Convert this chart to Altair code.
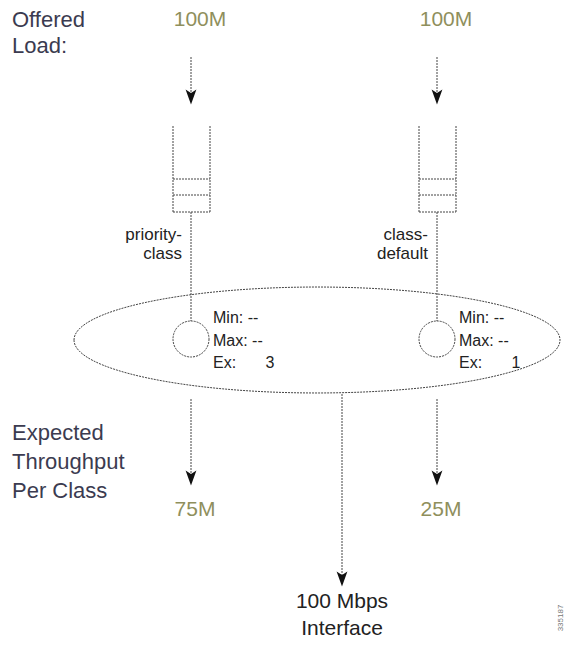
import altair as alt
import pandas as pd

# ---------------- data ----------------
class_names = ["priority-class", "class-default"]
class_label_top = ["priority-", "class-"]
class_label_bottom = ["class", "default"]
class_x = [191, 437]
offered_load = ["100M", "100M"]
expected_throughput = ["75M", "25M"]
min_values = ["--", "--"]
max_values = ["--", "--"]
excess_values = ["3", "1"]

offered_title = ["Offered", "Load:"]
offered_title_y = [20, 46]
expected_title = ["Expected", "Throughput", "Per Class"]
expected_title_y = [433, 462, 491]
interface_label = ["100 Mbps", "Interface"]
interface_label_y = [602, 629]
interface_x = 342
figure_id = "335187"

# ---------------- geometry tables ----------------
seg_rows = []
head_rows = []
for cx in class_x:
    # incoming arrow
    seg_rows.append(dict(x=cx, y=57, x2=cx, y2=98))
    head_rows.append(dict(x=cx, y=97))
    # queue
    seg_rows.append(dict(x=cx - 18, y=126, x2=cx - 18, y2=212))
    seg_rows.append(dict(x=cx + 19, y=126, x2=cx + 19, y2=212))
    for qy in [179, 195, 212]:
        seg_rows.append(dict(x=cx - 18, y=qy, x2=cx + 19, y2=qy))
    # connector to scheduler circle
    seg_rows.append(dict(x=cx, y=212, x2=cx, y2=321))
    # outgoing arrow
    seg_rows.append(dict(x=cx, y=399, x2=cx, y2=478))
    head_rows.append(dict(x=cx, y=478))
# interface arrow
seg_rows.append(dict(x=interface_x, y=394, x2=interface_x, y2=578))
head_rows.append(dict(x=interface_x, y=579))

segs = pd.DataFrame(seg_rows)
heads = pd.DataFrame(head_rows)
circles = pd.DataFrame(dict(x=class_x, y=[339, 339]))
ellipse = pd.DataFrame(dict(x=[317], y=[340]))

title_color = "#3b3b50"
value_color = "#8f8f5c"
ink = "#222222"

texts_left = []
for t, yy in zip(offered_title, offered_title_y):
    texts_left.append(dict(x=12, y=yy, text=t, size=22, color=title_color))
for t, yy in zip(expected_title, expected_title_y):
    texts_left.append(dict(x=12, y=yy, text=t, size=22, color=title_color))
for cx, mn, mx in zip(class_x, min_values, max_values):
    texts_left.append(dict(x=cx + 22, y=318, text="Min: " + mn, size=16, color=ink))
    texts_left.append(dict(x=cx + 22, y=341, text="Max: " + mx, size=16, color=ink))
    texts_left.append(dict(x=cx + 22, y=363, text="Ex:", size=16, color=ink))
texts_left = pd.DataFrame(texts_left)

texts_center = []
for cx, o, e, ex in zip(class_x, offered_load, expected_throughput, excess_values):
    texts_center.append(dict(x=cx + 9, y=20, text=o, size=21, color=value_color))
    texts_center.append(dict(x=cx + 4, y=510, text=e, size=21, color=value_color))
    texts_center.append(dict(x=cx + 79, y=363, text=ex, size=16, color=ink))
for t, yy in zip(interface_label, interface_label_y):
    texts_center.append(dict(x=interface_x, y=yy, text=t, size=21, color=ink))
texts_center = pd.DataFrame(texts_center)

texts_right = []
for cx, a, b in zip(class_x, class_label_top, class_label_bottom):
    texts_right.append(dict(x=cx - 9, y=235, text=a, size=17, color=ink))
    texts_right.append(dict(x=cx - 9, y=254, text=b, size=17, color=ink))
texts_right = pd.DataFrame(texts_right)

ident = pd.DataFrame(dict(x=[561], y=[618], text=[figure_id]))

# ---------------- scales ----------------
W, H = 560, 632
xs = alt.Scale(domain=[8, 8 + W], nice=False, zero=False)
ys = alt.Scale(domain=[8, 8 + H], nice=False, zero=False, reverse=True)
X = lambda f="x": alt.X(f"{f}:Q", scale=xs, axis=None)
Y = lambda f="y": alt.Y(f"{f}:Q", scale=ys, axis=None)

line_color = "#444444"
dash = [2, 1]

rules = alt.Chart(segs).mark_rule(color=line_color, strokeWidth=1, strokeDash=dash).encode(
    x=X(), y=Y(), x2="x2:Q", y2="y2:Q"
)

arrow_path = "M -0.72 -1 L 0 1 L 0.72 -1 L 0 -0.55 Z"
arrowheads = alt.Chart(heads).mark_point(
    shape=arrow_path, filled=True, color="#111111", opacity=1, size=15 * 15
).encode(x=X(), y=Y())

ellipse_path = "M -1 0 A 1 0.218 0 1 1 1 0 A 1 0.218 0 1 1 -1 0 Z"
ell = alt.Chart(ellipse).mark_point(
    shape=ellipse_path, filled=False, color=line_color, strokeWidth=1,
    strokeDash=dash, opacity=1, size=486 * 486
).encode(x=X(), y=Y())

circ = alt.Chart(circles).mark_point(
    shape="circle", filled=False, color=line_color, strokeWidth=1,
    strokeDash=dash, opacity=1, size=36 * 36
).encode(x=X(), y=Y())

font = "Liberation Sans"

def text_layer(df, align):
    return alt.Chart(df).mark_text(align=align, baseline="middle", font=font).encode(
        x=X(), y=Y(), text="text:N",
        size=alt.Size("size:Q", scale=None, legend=None),
        color=alt.Color("color:N", scale=None, legend=None),
    )

tl = text_layer(texts_left, "left")
tc = text_layer(texts_center, "center")
tr = text_layer(texts_right, "right")

idt = alt.Chart(ident).mark_text(
    angle=270, align="center", baseline="middle", font=font, fontSize=8, color="#777777"
).encode(x=X(), y=Y(), text="text:N")

chart = alt.layer(rules, ell, circ, arrowheads, tl, tc, tr, idt).properties(
    width=W, height=H, padding=0, autosize="none", background="white"
).configure_view(stroke=None)

chart.save("out.html", embed_options={"renderer": "svg", "actions": False})
